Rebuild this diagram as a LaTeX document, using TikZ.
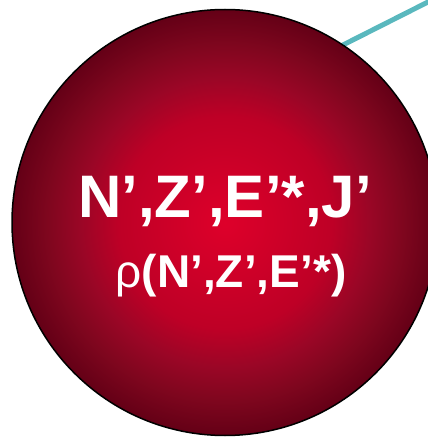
\documentclass[tikz,border=0pt]{standalone}
\usepackage{fontspec}
\setmainfont{Liberation Sans}
\definecolor{ballA}{RGB}{222,0,42}
\definecolor{ballB}{RGB}{190,0,38}
\definecolor{ballC}{RGB}{154,6,38}
\definecolor{ballD}{RGB}{126,6,30}
\definecolor{ballE}{RGB}{100,0,22}
\definecolor{linkteal}{RGB}{90,184,190}
\pgfdeclareradialshading{ballshade}{\pgfpoint{0bp}{0bp}}{color(0bp)=(ballA); color(12.5bp)=(ballB); color(17bp)=(ballC); color(21bp)=(ballD); color(25bp)=(ballE); color(50bp)=(ballE)}
\begin{document}
\begin{tikzpicture}[x=1pt,y=1pt,
  ball/.style={circle, draw=black, line width=1.5pt, shading=ballshade, minimum size=426pt, inner sep=0pt},
  link/.style={draw=linkteal, line width=5pt},
  bigtxt/.style={text=white, anchor=base, inner sep=0pt}]
\useasboundingbox (0,0) rectangle (428,437);
\clip (0,0) rectangle (428,437);
\coordinate (start) at (320,380.4);
\coordinate (tail) at (460,451.2);
\draw[link] (start) -- (tail);
\node[ball] (core) at (225,214.5) {};
\node[bigtxt, font=\fontsize{60}{60}\selectfont\bfseries] (t1) at (225,219) {N’,Z’,E’*,J’};
\node[bigtxt, font=\fontsize{46}{46}\selectfont] (t2) at (231,149) {ρ\textbf{(N’,Z’,E’*)}};
\end{tikzpicture}
\end{document}
